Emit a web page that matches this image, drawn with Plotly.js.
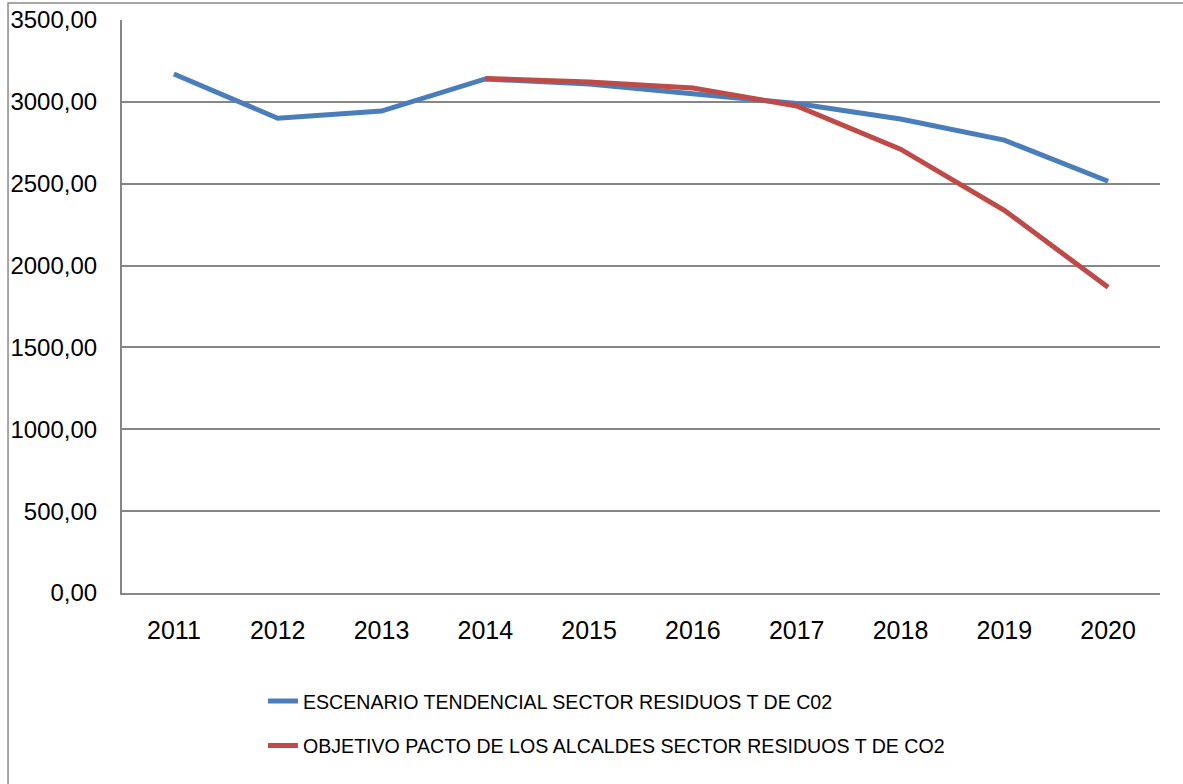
<!DOCTYPE html>
<html>
<head>
<meta charset="utf-8">
<script src="https://cdn.plot.ly/plotly-3.0.1.min.js"></script>
<style>
html,body{margin:0;padding:0;background:#fff;}
#chart{width:1183px;height:784px;}
</style>
</head>
<body>
<div id="chart"></div>
<script>
const years = ['2011','2012','2013','2014','2015','2016','2017','2018','2019','2020'];
const tendencial = [3170, 2900, 2944, 3140, 3109, 3048, 2990, 2895, 2766, 2515];
const objetivo = [null, null, null, 3143, 3121, 3084, 2975, 2711, 2338, 1867];
const seriesNames = [
  'ESCENARIO TENDENCIAL SECTOR RESIDUOS T DE C02',
  'OBJETIVO PACTO DE LOS ALCALDES SECTOR RESIDUOS T DE CO2'
];
const yTicks = [0, 500, 1000, 1500, 2000, 2500, 3000, 3500];

const xTickFont = {family: 'Liberation Sans, Arial, sans-serif', size: 25, color: '#000'};
const yTickFont = {family: 'Liberation Sans, Arial, sans-serif', size: 24, color: '#000'};
const legendFont = {family: 'Liberation Sans, Arial, sans-serif', size: 19.6, color: '#000'};

const traces = [
  {x: years, y: tendencial, name: seriesNames[0], type: 'scatter', mode: 'lines',
   line: {color: '#4a7ebb', width: 5}, legendgroup: 'a'},
  {x: years, y: objetivo, name: seriesNames[1], type: 'scatter', mode: 'lines',
   line: {color: '#be4b48', width: 5}, legendgroup: 'b', connectgaps: false}
];

const layout = {
  width: 1183, height: 784,
  margin: {l: 122, r: 23, t: 20, b: 191},
  paper_bgcolor: '#fff', plot_bgcolor: '#fff',
  separators: ',.',
  showlegend: true,
  xaxis: {
    type: 'category', range: [-0.5, 9.5],
    showgrid: false, zeroline: false,
    showline: true, linecolor: '#868686', linewidth: 2,
    ticks: '', tickfont: xTickFont, ticklabelstandoff: 14
  },
  yaxis: {
    range: [0, 3500], tickvals: yTicks, tickformat: '.2f',
    showgrid: true, gridcolor: '#868686', gridwidth: 2,
    zeroline: false, showline: true, linecolor: '#868686', linewidth: 2,
    ticks: '', tickfont: yTickFont, ticklabelstandoff: 18
  },
  legend: {
    orientation: 'v', x: 0.1358, xanchor: 'left', y: -0.155, yanchor: 'top',
    font: legendFont, tracegroupgap: 16, bgcolor: 'rgba(0,0,0,0)'
  },
  shapes: [
    {type: 'rect', xref: 'paper', yref: 'paper', x0: -0.1098, x1: 1.2, y0: -0.5, y1: 1.0297,
     line: {color: '#8a8a8a', width: 1.5}, fillcolor: 'rgba(0,0,0,0)', layer: 'below'}
  ]
};

Plotly.newPlot('chart', traces, layout, {displayModeBar: false, staticPlot: true});
</script>
</body>
</html>
